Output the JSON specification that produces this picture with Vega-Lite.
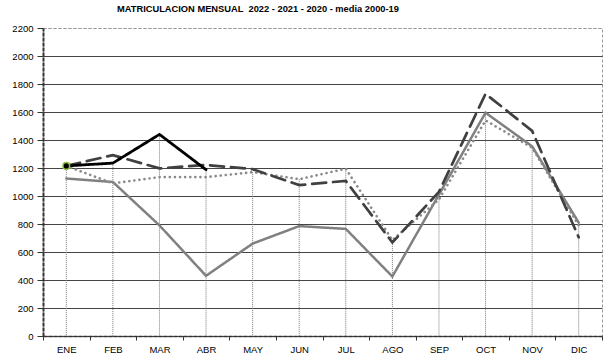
{
  "$schema": "https://vega.github.io/schema/vega-lite/v6.json",
  "width": 559,
  "height": 308,
  "autosize": {"type": "none"},
  "padding": {"left": 43, "top": 28, "right": 11, "bottom": 19},
  "background": "white",
  "config": {
    "font": "Liberation Sans",
    "view": {"stroke": "#999999", "strokeDash": [3, 2], "strokeWidth": 1},
    "axis": {"labelFont": "Liberation Sans", "labelFontSize": 9.5, "labelColor": "#000000"}
  },
  "title": {
    "text": "MATRICULACION MENSUAL\u00a0 2022 - 2021 - 2020 - media 2000-19",
    "fontSize": 9.3,
    "fontWeight": "bold",
    "font": "Liberation Sans",
    "anchor": "start",
    "frame": "group",
    "dx": 74,
    "offset": 9,
    "color": "#000000"
  },
  "datasets": {
    "series": [
      {"mes": "ENE", "serie": "2020", "valor": 1125},
      {"mes": "FEB", "serie": "2020", "valor": 1100},
      {"mes": "MAR", "serie": "2020", "valor": 790},
      {"mes": "ABR", "serie": "2020", "valor": 430},
      {"mes": "MAY", "serie": "2020", "valor": 660},
      {"mes": "JUN", "serie": "2020", "valor": 785},
      {"mes": "JUL", "serie": "2020", "valor": 765},
      {"mes": "AGO", "serie": "2020", "valor": 425},
      {"mes": "SEP", "serie": "2020", "valor": 1010},
      {"mes": "OCT", "serie": "2020", "valor": 1595},
      {"mes": "NOV", "serie": "2020", "valor": 1355},
      {"mes": "DIC", "serie": "2020", "valor": 810},
      {"mes": "ENE", "serie": "media 2000-19", "valor": 1215},
      {"mes": "FEB", "serie": "media 2000-19", "valor": 1090},
      {"mes": "MAR", "serie": "media 2000-19", "valor": 1135},
      {"mes": "ABR", "serie": "media 2000-19", "valor": 1135},
      {"mes": "MAY", "serie": "media 2000-19", "valor": 1170},
      {"mes": "JUN", "serie": "media 2000-19", "valor": 1120},
      {"mes": "JUL", "serie": "media 2000-19", "valor": 1195},
      {"mes": "AGO", "serie": "media 2000-19", "valor": 685},
      {"mes": "SEP", "serie": "media 2000-19", "valor": 975},
      {"mes": "OCT", "serie": "media 2000-19", "valor": 1540},
      {"mes": "NOV", "serie": "media 2000-19", "valor": 1345},
      {"mes": "DIC", "serie": "media 2000-19", "valor": 790},
      {"mes": "ENE", "serie": "2021", "valor": 1215},
      {"mes": "FEB", "serie": "2021", "valor": 1292},
      {"mes": "MAR", "serie": "2021", "valor": 1197},
      {"mes": "ABR", "serie": "2021", "valor": 1222},
      {"mes": "MAY", "serie": "2021", "valor": 1192},
      {"mes": "JUN", "serie": "2021", "valor": 1078},
      {"mes": "JUL", "serie": "2021", "valor": 1108},
      {"mes": "AGO", "serie": "2021", "valor": 668},
      {"mes": "SEP", "serie": "2021", "valor": 1030},
      {"mes": "OCT", "serie": "2021", "valor": 1730},
      {"mes": "NOV", "serie": "2021", "valor": 1465},
      {"mes": "DIC", "serie": "2021", "valor": 705},
      {"mes": "ENE", "serie": "2022", "valor": 1215},
      {"mes": "FEB", "serie": "2022", "valor": 1235},
      {"mes": "MAR", "serie": "2022", "valor": 1440},
      {"mes": "ABR", "serie": "2022", "valor": 1188}
    ]
  },
  "data": {"name": "series"},
  "encoding": {
    "x": {
      "field": "mes",
      "type": "ordinal",
      "bandPosition": 0.5,
      "sort": ["ENE", "FEB", "MAR", "ABR", "MAY", "JUN", "JUL", "AGO", "SEP", "OCT", "NOV", "DIC"],
      "scale": {"type": "band", "paddingInner": 0, "paddingOuter": 0},
      "axis": {
        "title": null,
        "grid": false,
        "tickBand": "extent",
        "labelAngle": 0,
        "domainColor": "#333333",
        "domainWidth": 1.5,
        "domainDash": [4, 1],
        "tickColor": "#333333",
        "tickSize": 4,
        "labelPadding": 4
      }
    },
    "y": {
      "field": "valor",
      "type": "quantitative",
      "scale": {"domain": [0, 2200], "nice": false},
      "axis": {
        "values": [0, 200, 400, 600, 800, 1000, 1200, 1400, 1600, 1800, 2000, 2200],
        "format": "d",
        "labelOverlap": false,
        "title": null,
        "grid": true,
        "gridColor": {"condition": {"test": "datum.value == 2200", "value": "#999999"}, "value": "#444444"},
        "gridDash": {"condition": {"test": "datum.value == 2200", "value": [3, 2]}, "value": []},
        "gridWidth": 1,
        "domainColor": "#333333",
        "domainWidth": 2,
        "domainDash": [4, 1],
        "tickColor": "#333333",
        "tickSize": 6,
        "labelPadding": 4
      }
    }
  },
  "layer": [
    {
      "transform": [
        {"filter": "datum.serie != '2021'"},
        {"aggregate": [{"op": "max", "field": "valor", "as": "valor"}], "groupby": ["mes"]}
      ],
      "mark": {"type": "rule", "color": "#777777", "strokeDash": [1, 1], "strokeWidth": 1},
      "encoding": {
        "y2": {"datum": 0}
      }
    },
    {
      "mark": {"type": "line", "strokeCap": "round", "strokeJoin": "miter"},
      "encoding": {
        "color": {
          "field": "serie",
          "type": "nominal",
          "scale": {"domain": ["2020", "media 2000-19", "2021", "2022"], "range": ["#808080", "#8a8a8a", "#404040", "#000000"]},
          "legend": null
        },
        "strokeDash": {
          "field": "serie",
          "type": "nominal",
          "scale": {"domain": ["2020", "media 2000-19", "2021", "2022"], "range": [[1, 0], [0.1, 5], [14, 7], [1, 0]]},
          "legend": null
        },
        "strokeWidth": {
          "field": "serie",
          "type": "nominal",
          "scale": {"domain": ["2020", "media 2000-19", "2021", "2022"], "range": [2.5, 2.8, 3, 3]},
          "legend": null
        },
        "order": {"field": "serie", "type": "nominal"}
      }
    },
    {
      "transform": [{"filter": "datum.serie == '2022' && datum.mes == 'ENE'"}],
      "mark": {"type": "point", "filled": false, "stroke": "#8cc63f", "fill": "#000000", "size": 45, "strokeWidth": 1.5, "opacity": 1},
      "encoding": {}
    }
  ]
}
